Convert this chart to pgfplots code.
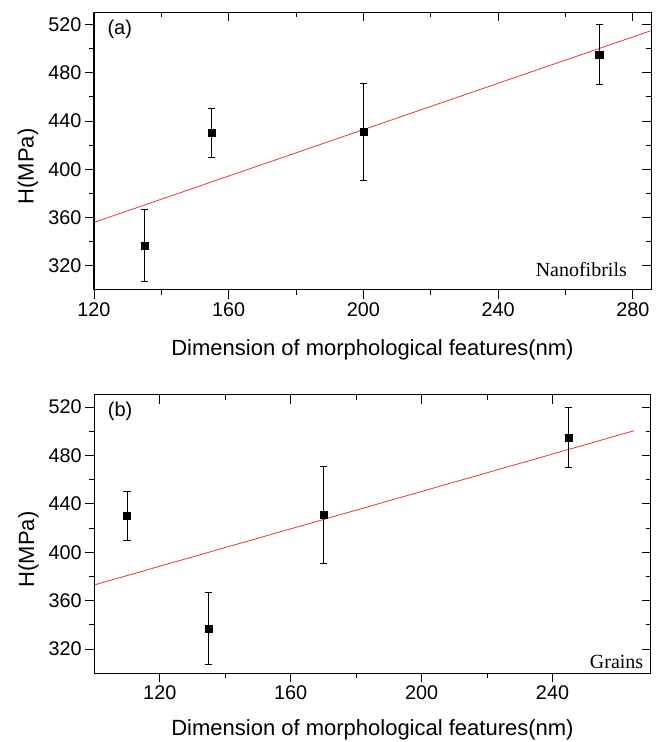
\documentclass[border=0pt]{standalone}
\usepackage{pgfplots}
\pgfplotsset{compat=1.18}
\usepackage{fontspec}
\setmainfont{Liberation Sans}
\newfontfamily\seriffont{Liberation Serif}
\definecolor{fitred}{RGB}{235,55,55}

\pgfplotsset{
  base/.style={
    scale only axis,
    anchor=south west,
    /pgf/number format/assume math mode=true,
    ymin=300, ymax=530,
    ytick={320,360,400,440,480,520},
    minor x tick num=1, minor y tick num=1,
    major tick length=9pt, minor tick length=5pt,
    axis line style={line width=1pt},
    every tick/.style={line width=0.9pt, black},
    tick label style={font=\fontsize{19.8}{23}\selectfont},
    label style={font=\fontsize{22}{26}\selectfont},
  },
  lowerleft/.style={base, xtick pos=left, ytick pos=left, tick align=outside,
    ylabel={H(MPa)},
    ylabel style={at={(axis description cs:-0.1185,0.445)}, anchor=center, rotate=0},
  },
  upperright/.style={base, xtick pos=right, ytick pos=right, tick align=inside,
    xticklabels={}, yticklabels={}},
}

\begin{document}
\begin{tikzpicture}[x=1pt,y=1pt]
\path[use as bounding box] (0,0) rectangle (659,742);

% ---------------- (a) ----------------
\begin{axis}[lowerleft, at={(94pt,452pt)}, width=557pt, height=277.7pt,
  xmin=120, xmax=285.4, xtick={120,160,200,240,280},
  xlabel={Dimension of morphological features(nm)},
  xlabel style={at={(axis description cs:0.5,-0.216)}, anchor=center}]
\addplot[fitred, line width=0.8pt] coordinates {(120,356.0) (285.4,514.8)};
\addplot[black, only marks, mark=square*, mark size=3.6pt,
  error bars/.cd, y dir=both, y explicit,
  error bar style={line width=0.8pt, black},
  error mark options={rotate=90, mark size=3.6pt, line width=0.8pt, black}]
  table[x=x, y=y, y error=e] {
x y e
135 337 30
155 430 20
200 431 40
270 495 25
};
\node[anchor=west, font=\fontsize{20}{24}\selectfont] at (rel axis cs:0.018,0.94) {(a)};
\node[anchor=base east, font=\seriffont\fontsize{20}{24}\selectfont] at (rel axis cs:0.963,0.048) {Nanofibrils};
\end{axis}
\begin{axis}[upperright, at={(94pt,452pt)}, width=557pt, height=277.7pt,
  xmin=120, xmax=285.4, xtick={120,160,200,240,280}]
\end{axis}

% ---------------- (b) ----------------
\begin{axis}[lowerleft, at={(94.3pt,68.7pt)}, width=556.4pt, height=278.3pt,
  xmin=100, xmax=270, xtick={120,160,200,240},
  xlabel={Dimension of morphological features(nm)},
  xlabel style={at={(axis description cs:0.5,-0.204)}, anchor=center}]
\addplot[fitred, line width=0.8pt] coordinates {(100,373.0) (265,500.5)};
\addplot[black, only marks, mark=square*, mark size=3.6pt,
  error bars/.cd, y dir=both, y explicit,
  error bar style={line width=0.8pt, black},
  error mark options={rotate=90, mark size=3.6pt, line width=0.8pt, black}]
  table[x=x, y=y, y error=e] {
x y e
110 430 20
135 337 30
170 431 40
245 495 25
};
\node[anchor=west, font=\fontsize{20}{24}\selectfont] at (rel axis cs:0.018,0.94) {(b)};
\node[anchor=base east, font=\seriffont\fontsize{20}{24}\selectfont] at (rel axis cs:0.993,0.019) {Grains};
\end{axis}
\begin{axis}[upperright, at={(94.3pt,68.7pt)}, width=556.4pt, height=278.3pt,
  xmin=100, xmax=270, xtick={120,160,200,240}]
\end{axis}
\end{tikzpicture}
\end{document}
